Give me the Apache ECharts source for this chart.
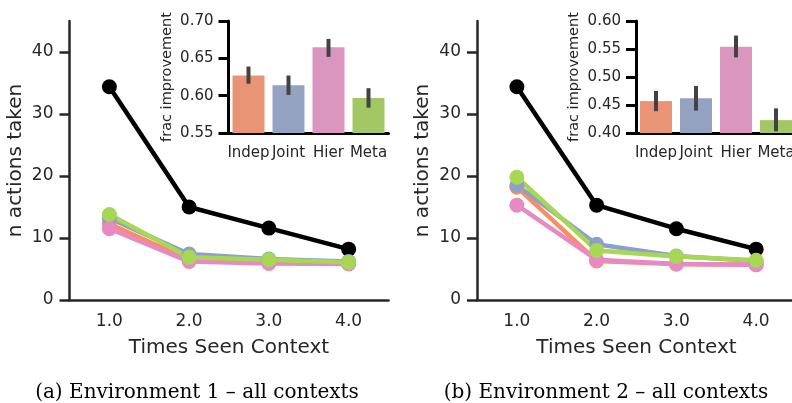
<!DOCTYPE html>
<html>
<head>
<meta charset="utf-8">
<script src="https://cdn.jsdelivr.net/npm/echarts@6/dist/echarts.min.js"></script>
<style>
  html, body {margin: 0; padding: 0; background: #fff;}
  #chart {width: 792px; height: 403px;}
</style>
</head>
<body>
<div id="chart"></div>
<script>
const timesSeen = ['1.0', '2.0', '3.0', '4.0'];
const yTicks = [0, 10, 20, 30, 40];
const agents = ['Indep', 'Joint', 'Hier', 'Meta'];

// environment 1
const flat1 = [34.4, 15.0, 11.6, 8.2];
const indep1 = [12.3, 6.5, 6.0, 5.9];
const joint1 = [13.2, 7.4, 6.6, 6.2];
const hier1 = [11.5, 6.2, 5.9, 5.8];
const meta1 = [13.8, 6.9, 6.5, 6.1];
const frac1 = [0.627, 0.614, 0.665, 0.597];
const fracLow1 = [0.616, 0.601, 0.652, 0.584];
const fracHigh1 = [0.639, 0.627, 0.676, 0.610];
const fracTicks1 = [0.55, 0.60, 0.65, 0.70];

// environment 2
const flat2 = [34.4, 15.3, 11.5, 8.2];
const indep2 = [18.2, 6.3, 5.8, 5.7];
const joint2 = [18.5, 9.0, 7.1, 6.3];
const hier2 = [15.3, 6.5, 5.8, 5.7];
const meta2 = [19.8, 8.0, 7.0, 6.4];
const frac2 = [0.457, 0.462, 0.554, 0.423];
const fracLow2 = [0.439, 0.440, 0.535, 0.403];
const fracHigh2 = [0.475, 0.484, 0.574, 0.444];
const fracTicks2 = [0.40, 0.45, 0.50, 0.55, 0.60];

const lineColors = ['#fc8d62', '#8da0cb', '#e78ac3', '#a6d854'];
const barColors = ['#e99575', '#95a3c3', '#db96c0', '#a2c764'];
const ink = '#262626';
const font = 'DejaVu Sans';

const myChart = echarts.init(document.getElementById('chart'));

const mainX = idx => ({
  type: 'category', gridIndex: idx, data: timesSeen, boundaryGap: true,
  axisLine: {lineStyle: {color: ink, width: 2.5}},
  axisTick: {alignWithLabel: true, length: 8, lineStyle: {color: ink, width: 2.5}},
  axisLabel: {color: ink, fontSize: 17, fontFamily: font, margin: 13},
  name: 'Times Seen Context', nameLocation: 'middle', nameGap: 38,
  nameTextStyle: {color: ink, fontSize: 20, fontFamily: font},
  splitLine: {show: false}
});
const mainY = idx => ({
  type: 'value', gridIndex: idx, min: 0, max: 45,
  axisLine: {show: true, lineStyle: {color: ink, width: 2.5}},
  axisTick: {show: true, length: 10, customValues: yTicks, lineStyle: {color: ink, width: 2.5}},
  axisLabel: {color: ink, fontSize: 17, fontFamily: font, margin: 16, customValues: yTicks},
  name: 'n actions taken', nameLocation: 'middle', nameGap: 44,
  nameTextStyle: {color: ink, fontSize: 20, fontFamily: font},
  splitLine: {show: false}
});
const insetX = idx => ({
  type: 'category', gridIndex: idx, data: agents,
  axisLine: {lineStyle: {color: '#000', width: 3}},
  axisTick: {alignWithLabel: true, length: 11, lineStyle: {color: '#000', width: 3}},
  axisLabel: {color: ink, fontSize: 15, fontFamily: font, margin: 13, interval: 0},
  splitLine: {show: false}
});
const insetY = (idx, ticks) => ({
  type: 'value', gridIndex: idx, min: ticks[0], max: ticks[ticks.length - 1],
  axisLine: {show: true, lineStyle: {color: '#000', width: 3}},
  axisTick: {show: true, length: 10, customValues: ticks, lineStyle: {color: '#000', width: 3}},
  axisLabel: {color: ink, fontSize: 15, fontFamily: font, margin: 15, customValues: ticks,
    formatter: v => v.toFixed(2)},
  name: 'frac improvement', nameLocation: 'middle', nameGap: 54,
  nameTextStyle: {color: ink, fontSize: 14.5, fontFamily: font},
  splitLine: {show: false}
});

const lineSeries = (grid, name, data, color) => ({
  type: 'line', name: name, xAxisIndex: grid, yAxisIndex: grid, data: data,
  symbol: 'circle', symbolSize: 15,
  itemStyle: {color: color},
  lineStyle: {color: color, width: 4.5}
});

const barSeries = (grid, data) => ({
  type: 'bar', xAxisIndex: grid, yAxisIndex: grid, barCategoryGap: '20%',
  data: data.map((v, i) => ({value: v, itemStyle: {color: barColors[i]}}))
});

const errSeries = (grid, low, high) => ({
  type: 'custom', xAxisIndex: grid, yAxisIndex: grid, z: 5,
  encode: {x: 0, y: [1, 2]},
  data: low.map((v, i) => [i, v, high[i]]),
  renderItem(params, api) {
    const a = api.coord([api.value(0), api.value(1)]);
    const b = api.coord([api.value(0), api.value(2)]);
    return {
      type: 'line',
      shape: {x1: a[0], y1: a[1], x2: b[0], y2: b[1]},
      style: {stroke: '#424242', lineWidth: 4}
    };
  }
});

const panel = (grid, flat, indep, joint, hier, meta) => [
  lineSeries(grid, 'Flat', flat, '#000'),
  lineSeries(grid, 'Indep', indep, lineColors[0]),
  lineSeries(grid, 'Joint', joint, lineColors[1]),
  lineSeries(grid, 'Hier', hier, lineColors[2]),
  lineSeries(grid, 'Meta', meta, lineColors[3])
];

myChart.setOption({
  animation: false,
  backgroundColor: '#fff',
  grid: [
    {left: 69.5, top: 21, width: 319, height: 279, outerBoundsMode: 'none'},
    {left: 477, top: 21, width: 319, height: 279, outerBoundsMode: 'none'},
    {left: 228.5, top: 21, width: 160, height: 112, outerBoundsMode: 'none'},
    {left: 636, top: 21, width: 160, height: 112, outerBoundsMode: 'none'}
  ],
  xAxis: [mainX(0), mainX(1), insetX(2), insetX(3)],
  yAxis: [mainY(0), mainY(1), insetY(2, fracTicks1), insetY(3, fracTicks2)],
  series: [
    ...panel(0, flat1, indep1, joint1, hier1, meta1),
    ...panel(1, flat2, indep2, joint2, hier2, meta2),
    barSeries(2, frac1), errSeries(2, fracLow1, fracHigh1),
    barSeries(3, frac2), errSeries(3, fracLow2, fracHigh2)
  ],
  graphic: [
    {type: 'text', x: 197, y: 393, style: {text: '(a) Environment 1 – all contexts',
      align: 'center', verticalAlign: 'middle', fill: '#000', font: '20px "DejaVu Serif"'}},
    {type: 'text', x: 606, y: 393, style: {text: '(b) Environment 2 – all contexts',
      align: 'center', verticalAlign: 'middle', fill: '#000', font: '20px "DejaVu Serif"'}}
  ]
});
</script>
</body>
</html>
